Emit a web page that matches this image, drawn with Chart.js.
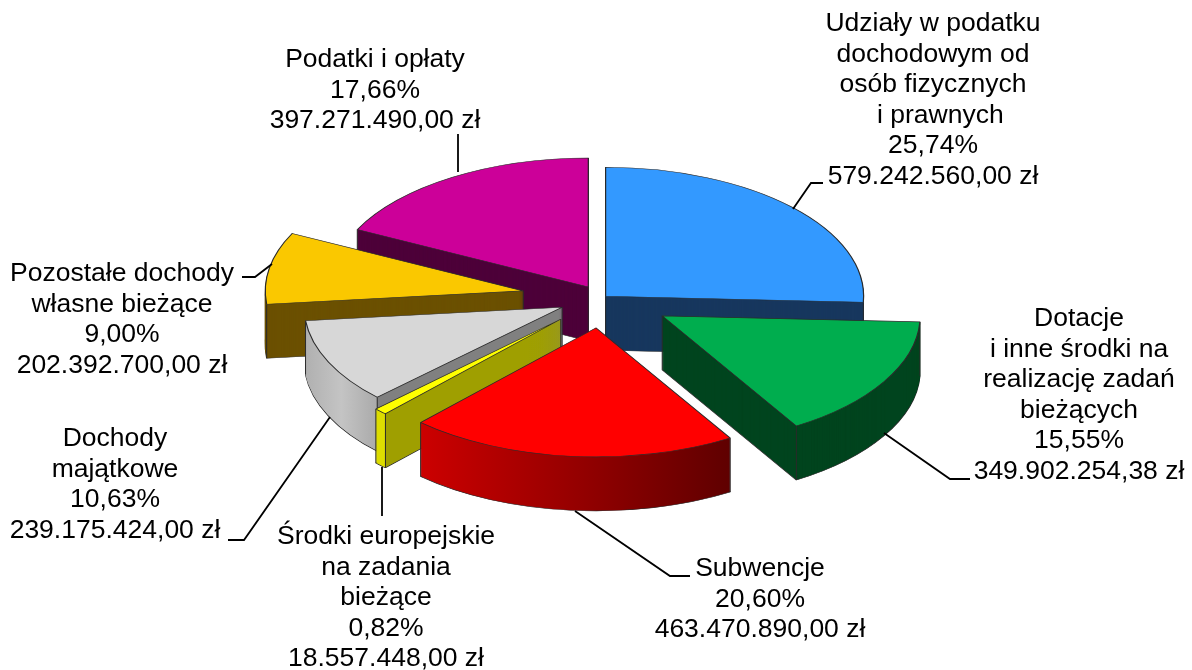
<!DOCTYPE html>
<html>
<head>
<meta charset="utf-8">
<title>Dochody</title>
<script src="https://cdn.jsdelivr.net/npm/chart.js@4"></script>
<style>
  html, body { margin: 0; padding: 0; background: #ffffff; }
  #wrap { width: 1192px; height: 670px; }
</style>
</head>
<body>
<div id="wrap"><canvas id="pie"></canvas></div>
<script>
const categories = [
  "Udziały w podatku\ndochodowym od\nosób fizycznych\n  i prawnych",
  "Dotacje\ni inne środki na\nrealizację zadań\nbieżących",
  "Subwencje",
  "Środki europejskie\nna zadania\nbieżące",
  "Dochody\nmajątkowe",
  "Pozostałe dochody\nwłasne bieżące",
  "Podatki i opłaty"
];
const amounts = [579242560.00, 349902254.38, 463470890.00, 18557448.00, 239175424.00, 202392700.00, 397271490.00];
const shares = ["25,74%", "15,55%", "20,60%", "0,82%", "10,63%", "9,00%", "17,66%"];
const amountLabels = [
  "579.242.560,00 zł", "349.902.254,38 zł", "463.470.890,00 zł", "18.557.448,00 zł",
  "239.175.424,00 zł", "202.392.700,00 zł", "397.271.490,00 zł"
];

// styling
const topColors = ["#3399ff", "#00ad4e", "#ff0000", "#ffff00", "#d7d7d7", "#fac800", "#cc0099"];
const sideFills = [
  "#17375e",
  "#00441e",
  { curve: ["#cc0000", "#5f0000"] },
  { curve: ["#dddd00", "#dddd00"], wall: "#9f9f00" },
  { curve: ["#b0b0b0", "#c4c4c4", "#aaaaaa"], wall: "#808080" },
  "#6b5000",
  "#4d0039"
];
const sliceExplode = [5, 70, 60, 59, 44, 80, 26];
const drawOrder = [6, 5, 0, 4, 3, 1, 2];
const tilt = 0.5;
const depth = 54;
const outline = "#2a2a2a";

const labelCenters = [933, 1079, 760, 386, 115, 122, 375];
const labelBaselines = [31, 326, 576, 544, 446, 281, 67];
const lineStep = 30.5;
const leaders = [
  [[793, 209], [811, 183], [823, 183]],
  [[884, 433], [950, 479], [970, 479]],
  [[575, 511], [670, 576], [690, 576]],
  [[382, 467], [382, 516]],
  [[330, 417], [244, 540], [228, 540]],
  [[272, 264], [255, 277], [242, 277]],
  [[458, 172], [458, 134]]
];

function sideFill(ctx, arc, fill) {
  if (typeof fill === "string") return fill;
  const r = arc.outerRadius;
  const x0 = arc.x + r * Math.cos(arc.endAngle);
  const x1 = arc.x + r * Math.cos(arc.startAngle);
  const xEnd = fill.wall ? arc.x : x1;
  const g = ctx.createLinearGradient(x0, 0, xEnd, 0);
  const t = (x1 - x0) / (xEnd - x0);
  fill.curve.forEach(function (c, i) {
    g.addColorStop(t * i / (fill.curve.length - 1), c);
  });
  if (fill.wall) {
    g.addColorStop(t, fill.wall);
    g.addColorStop(1, fill.wall);
  }
  return g;
}

// draws an arc element squashed and moved along its own mid angle
function drawLayer(ctx, arc, i, drop, style) {
  const half = (arc.startAngle + arc.endAngle) / 2;
  const saved = arc.options;
  arc.options = Object.assign({}, saved, style);
  ctx.save();
  ctx.translate(0, arc.y + drop);
  ctx.scale(1, tilt);
  ctx.translate(0, -arc.y);
  ctx.translate(Math.cos(half) * sliceExplode[i], Math.sin(half) * sliceExplode[i]);
  arc.draw(ctx);
  ctx.restore();
  arc.options = saved;
}

function cornerLines(ctx, arc, i) {
  const half = (arc.startAngle + arc.endAngle) / 2;
  const ax = arc.x + Math.cos(half) * sliceExplode[i];
  const ay = arc.y + Math.sin(half) * sliceExplode[i] * tilt;
  const r = arc.outerRadius;
  const pts = [
    [ax, ay],
    [ax + r * Math.cos(arc.startAngle), ay + r * tilt * Math.sin(arc.startAngle)],
    [ax + r * Math.cos(arc.endAngle), ay + r * tilt * Math.sin(arc.endAngle)]
  ];
  ctx.strokeStyle = outline;
  ctx.lineWidth = 1;
  ctx.beginPath();
  pts.forEach(function (p) {
    ctx.moveTo(p[0], p[1]);
    ctx.lineTo(p[0], p[1] + depth);
  });
  ctx.stroke();
}

const pie3d = {
  id: "pie3d",
  beforeDatasetsDraw(chart) {
    const ctx = chart.ctx;
    const arcs = chart.getDatasetMeta(0).data;
    drawOrder.forEach(function (i) {
      const arc = arcs[i];
      const side = sideFill(ctx, arc, sideFills[i]);
      drawLayer(ctx, arc, i, depth, { backgroundColor: side, borderColor: outline, borderWidth: 1.2 });
      for (let k = depth - 1; k > 0; k--) {
        // thin same-colour border so thin wedges do not go see-through
        drawLayer(ctx, arc, i, k, { backgroundColor: side, borderColor: side, borderWidth: 0.8 });
      }
      cornerLines(ctx, arc, i);
      drawLayer(ctx, arc, i, 0, { backgroundColor: topColors[i], borderColor: outline, borderWidth: 1.2 });
    });
    return false;
  },
  afterDraw(chart) {
    const ctx = chart.ctx;
    ctx.save();
    ctx.strokeStyle = "#000000";
    ctx.lineWidth = 1.8;
    leaders.forEach(function (pts) {
      ctx.beginPath();
      pts.forEach(function (p, j) {
        if (j === 0) ctx.moveTo(p[0], p[1]);
        else ctx.lineTo(p[0], p[1]);
      });
      ctx.stroke();
    });
    ctx.fillStyle = "#000000";
    ctx.font = '26.5px "Liberation Sans"';
    ctx.textAlign = "center";
    ctx.textBaseline = "alphabetic";
    categories.forEach(function (name, i) {
      const lines = name.split("\n").concat([shares[i], amountLabels[i]]);
      lines.forEach(function (line, j) {
        ctx.fillText(line, labelCenters[i], labelBaselines[i] + j * lineStep);
      });
    });
    ctx.restore();
  }
};

new Chart(document.getElementById("pie"), {
  type: "pie",
  data: {
    labels: categories,
    datasets: [
      {
        data: amounts,
        backgroundColor: topColors,
        borderWidth: 0
      }
    ]
  },
  options: {
    responsive: true,
    maintainAspectRatio: false,
    animation: false,
    events: [],
    radius: 258,
    layout: { padding: { left: 12, bottom: 74 } },
    plugins: {
      legend: { display: false },
      tooltip: { enabled: false }
    }
  },
  plugins: [pie3d]
});
</script>
</body>
</html>
